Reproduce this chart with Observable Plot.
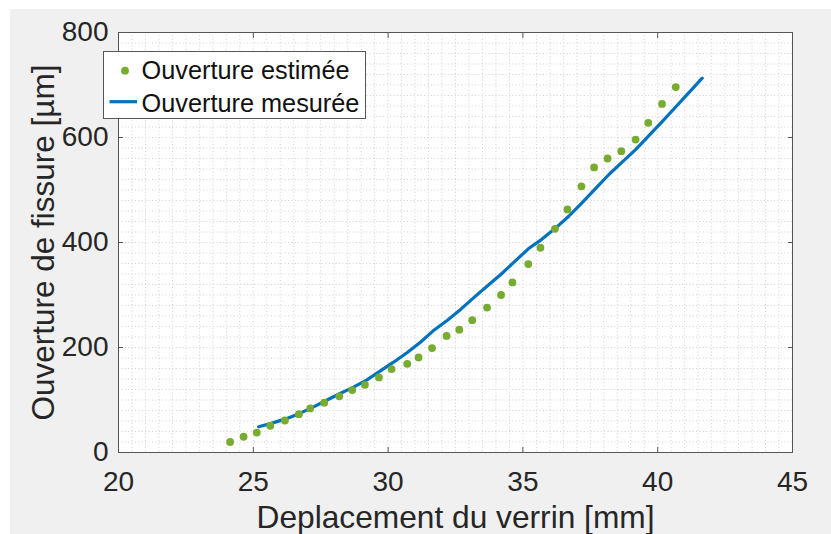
<!DOCTYPE html>
<html><head><meta charset="utf-8">
<script src="https://cdn.jsdelivr.net/npm/d3@7"></script>
<script src="https://cdn.jsdelivr.net/npm/@observablehq/plot@0.6"></script>
<style>
body{margin:0;background:#fff;}
#wrap{position:relative;width:831px;height:534px;overflow:hidden;}
#bg{position:absolute;left:10px;top:9px;right:0;bottom:0;background:#f0f0f0;}
#chart{position:absolute;left:0;top:0;}
#legend{position:absolute;left:103px;top:51px;}
</style></head><body>
<div id="wrap"><div id="bg"></div><div id="chart"></div><div id="legend"></div></div>
<script>
// Ouverture estimée (points)
const estX = [24.14, 24.64, 25.13, 25.63, 26.17, 26.69, 27.11, 27.63, 28.19, 28.67, 29.14, 29.66, 30.13, 30.71, 31.13, 31.63, 32.17, 32.64, 33.12, 33.67, 34.19, 34.61, 35.20, 35.65, 36.19, 36.65, 37.17, 37.64, 38.14, 38.65, 39.18, 39.65, 40.16, 40.67];
const estY = [20, 30, 38, 51, 61, 73, 84, 95, 107, 119, 129, 143, 159, 169, 181, 199, 222, 234, 252, 276, 300, 324, 359, 390, 426, 463, 507, 543, 560, 574, 596, 628, 664, 696];
// Ouverture mesurée (line)
const mesX = [25.2, 25.7, 26.2, 26.7, 27.2, 27.7, 28.2, 28.7, 29.2, 29.7, 30.2, 30.7, 31.2, 31.7, 32.2, 32.7, 33.2, 33.7, 34.2, 34.7, 35.2, 35.7, 36.2, 36.7, 37.2, 37.7, 38.2, 38.7, 39.2, 39.7, 40.2, 40.7, 41.2, 41.65];
const mesY = [49, 56, 64, 74, 86, 99, 112, 124, 138, 155, 172, 190, 210, 233, 252, 273, 296, 318, 340, 364, 388, 406, 427, 450, 476, 503, 530, 554, 578, 605, 632, 660, 688, 713];

const xTicks = [20, 25, 30, 35, 40, 45];
const yTicks = [0, 200, 400, 600, 800];
const xLabel = "Deplacement du verrin [mm]";
const yLabel = "Ouverture de fissure [µm]";
const legendLabels = ["Ouverture estimée", "Ouverture mesurée"];

const colEst = "#77AC30";
const colMes = "#0072BD";
const font = '"Liberation Sans", Arial, Helvetica, sans-serif';
const txt = "#262626";

const est = estX.map((x, i) => ({x, y: estY[i]}));
const mes = mesX.map((x, i) => ({x, y: mesY[i]}));

const gridStyle = {stroke: "#d0d0d0", strokeDasharray: "1,2.4", strokeWidth: 1};

const chart = Plot.plot({
  width: 831, height: 534,
  marginLeft: 118, marginRight: 39, marginTop: 32, marginBottom: 82,
  style: {background: "transparent", fontFamily: font, color: txt, overflow: "visible"},
  x: {domain: [20, 45], ticks: xTicks},
  y: {domain: [0, 800], ticks: yTicks},
  marks: [
    Plot.frame({fill: "white", stroke: null}),
    Plot.ruleX(d3.range(20.5, 45, 0.5), gridStyle),
    Plot.ruleY(d3.range(20, 800, 20), gridStyle),
    Plot.line(mes, {x: "x", y: "y", stroke: colMes, strokeWidth: 3.2}),
    Plot.dot(est, {x: "x", y: "y", r: 3.9, fill: colEst, stroke: null}),
    Plot.axisX(xTicks, {anchor: "bottom", tickSize: -5, tickPadding: 24, fontSize: 28, label: null, stroke: "#555", fill: txt}),
    Plot.axisX(xTicks, {anchor: "top", tickSize: -5, tickFormat: () => "", label: null, stroke: "#555"}),
    Plot.axisY(yTicks, {anchor: "left", tickSize: -5, tickPadding: 15, fontSize: 28, label: null, stroke: "#555", fill: txt}),
    Plot.axisY(yTicks, {anchor: "right", tickSize: -5, tickFormat: () => "", label: null, stroke: "#555"}),
    Plot.frame({stroke: "#555", strokeWidth: 1}),
    Plot.text([xLabel], {frameAnchor: "bottom", text: d => d, dy: 75, lineAnchor: "bottom", textAnchor: "middle", fontSize: 31.7, fill: txt}),
    Plot.text([yLabel], {frameAnchor: "left", text: d => d, dx: -65, rotate: -90, lineAnchor: "bottom", textAnchor: "middle", fontSize: 31.5, fill: txt})
  ]
});
document.getElementById("chart").appendChild(chart);

// Legend (HTML overlay, drawn with d3)
const lg = d3.select("#legend").append("svg").attr("width", 264).attr("height", 69)
  .style("font-family", font).style("overflow", "visible");
lg.append("rect").attr("x", 0.5).attr("y", 0.5).attr("width", 262).attr("height", 67)
  .attr("fill", "white").attr("stroke", "#555").attr("stroke-width", 1);
lg.append("circle").attr("cx", 22).attr("cy", 19.7).attr("r", 3.9).attr("fill", colEst);
lg.append("line").attr("x1", 6.5).attr("x2", 34).attr("y1", 50.7).attr("y2", 50.7)
  .attr("stroke", colMes).attr("stroke-width", 3.2);
lg.selectAll("text.l").data(legendLabels).join("text").attr("class", "l")
  .attr("x", 38.5).attr("y", (d, i) => 28.3 + i * 32.4)
  .attr("font-size", 25.3).attr("fill", "#111").text(d => d);
</script>
</body></html>
